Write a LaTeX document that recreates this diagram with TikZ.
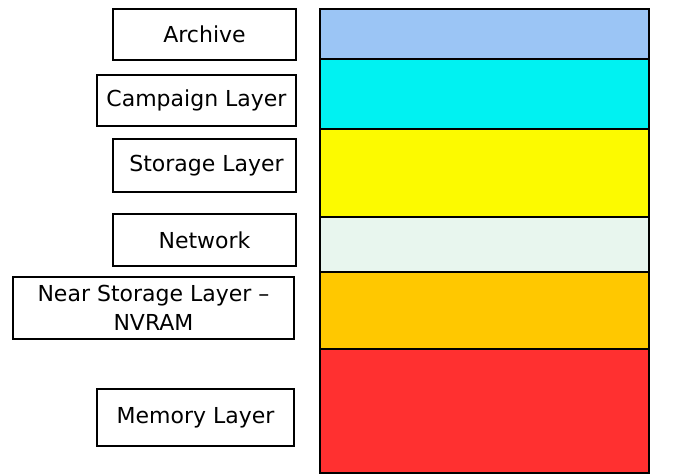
\documentclass[tikz,border=0pt]{standalone}
\usepackage{fontspec}
\setmainfont{DejaVu Sans}
\begin{document}
\begin{tikzpicture}[x=1pt,y=-1pt,
  lbl/.style={draw=black,line width=1.2pt,fill=white,inner sep=0pt,align=center,font=\fontsize{22}{29}\selectfont},
  band/.style={draw=black,line width=1.2pt}]
\useasboundingbox (0,0) rectangle (673,475);
\definecolor{cArch}{RGB}{155,197,245}
\definecolor{cCamp}{RGB}{0,242,242}
\definecolor{cStor}{RGB}{252,250,0}
\definecolor{cNet}{RGB}{232,246,238}
\definecolor{cNear}{RGB}{255,200,0}
\definecolor{cMem}{RGB}{255,48,48}
% stack
\path[band,fill=cArch] (320,9) rectangle (649,59);
\path[band,fill=cCamp] (320,59) rectangle (649,129);
\path[band,fill=cStor] (320,129) rectangle (649,217);
\path[band,fill=cNet] (320,217) rectangle (649,272);
\path[band,fill=cNear] (320,272) rectangle (649,349);
\path[band,fill=cMem] (320,349) rectangle (649,473);
% labels
\node[lbl,minimum width=183pt,minimum height=51pt] (arch) at (204.5,34.5) {Archive};
\node[lbl,minimum width=199pt,minimum height=51pt] (camp) at (196.5,100.5) {Campaign Layer};
\node[lbl,minimum width=183pt,minimum height=53pt] (stor) at (204.5,165.5) {\hspace*{4pt}Storage Layer};
\node[lbl,minimum width=183pt,minimum height=52pt] (net) at (204.5,240) {Network};
\node[lbl,minimum width=281pt,minimum height=62pt] (near) at (153.5,308) {Near Storage Layer –\\NVRAM};
\node[lbl,minimum width=197pt,minimum height=57pt] (mem) at (195.5,417.5) {Memory Layer};
\end{tikzpicture}
\end{document}
